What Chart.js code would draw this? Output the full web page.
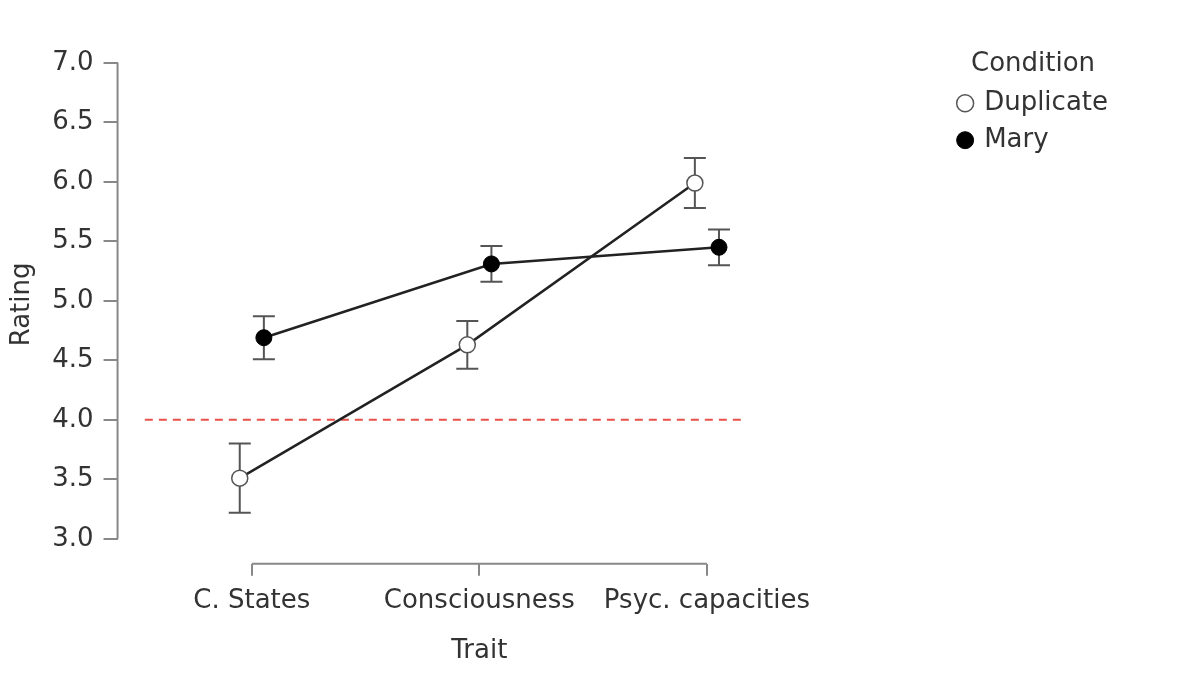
<!DOCTYPE html>
<html>
<head>
<meta charset="utf-8">
<script src="https://cdn.jsdelivr.net/npm/chart.js@4.4.0/dist/chart.umd.min.js"></script>
<style>
  body { margin: 0; background: #fff; }
  #wrap { width: 1200px; height: 686px; position: relative; }
</style>
</head>
<body>
<div id="wrap"><canvas id="chart"></canvas></div>
<script>
// data
const categories = ["C. States", "Consciousness", "Psyc. capacities"];
const duplicateMean = [3.51, 4.63, 5.99];
const duplicateErr = [0.29, 0.20, 0.21];
const maryMean = [4.69, 5.31, 5.45];
const maryErr = [0.18, 0.15, 0.15];
const yTicks = [3.0, 3.5, 4.0, 4.5, 5.0, 5.5, 6.0, 6.5, 7.0];
const refValue = 4.0;
const refRange = [-0.47, 2.15];

const dodge = 0.053;
const FONT = "DejaVu Sans";
const TXT = "#333";
const AXIS = "#888";

const dupPoints = duplicateMean.map((v, i) => ({ x: i - dodge, y: v }));
const maryPoints = maryMean.map((v, i) => ({ x: i + dodge, y: v }));
const refPoints = refRange.map(x => ({ x: x, y: refValue }));

// error bars, detached axis lines and x title
const extras = {
  id: "extras",
  beforeDatasetsDraw(chart) {
    const ctx = chart.ctx, xs = chart.scales.x, ys = chart.scales.y;
    ctx.save();
    ctx.strokeStyle = "#555";
    ctx.lineWidth = 2;
    [[duplicateMean, duplicateErr, -dodge], [maryMean, maryErr, dodge]].forEach(([m, e, d]) => {
      m.forEach((v, i) => {
        const x = xs.getPixelForValue(i + d);
        const y1 = ys.getPixelForValue(v - e[i]);
        const y2 = ys.getPixelForValue(v + e[i]);
        ctx.beginPath();
        ctx.moveTo(x, y1); ctx.lineTo(x, y2);
        ctx.moveTo(x - 11, y1); ctx.lineTo(x + 11, y1);
        ctx.moveTo(x - 11, y2); ctx.lineTo(x + 11, y2);
        ctx.stroke();
      });
    });
    ctx.restore();
  },
  afterDraw(chart) {
    const ctx = chart.ctx, xs = chart.scales.x, ys = chart.scales.y;
    const a = chart.chartArea;
    ctx.save();
    ctx.strokeStyle = AXIS;
    ctx.lineWidth = 2;
    ctx.beginPath();
    ctx.moveTo(a.left, ys.getPixelForValue(yTicks[0]));
    ctx.lineTo(a.left, ys.getPixelForValue(yTicks[yTicks.length - 1]));
    ctx.moveTo(xs.getPixelForValue(0), a.bottom);
    ctx.lineTo(xs.getPixelForValue(categories.length - 1), a.bottom);
    ctx.stroke();
    ctx.fillStyle = TXT;
    ctx.font = "26px '" + FONT + "'";
    ctx.textAlign = "center";
    ctx.textBaseline = "middle";
    ctx.fillText("Trait", (xs.getPixelForValue(0) + xs.getPixelForValue(categories.length - 1)) / 2, 651);
    ctx.restore();
  }
};

new Chart(document.getElementById("chart"), {
  type: "line",
  data: {
    datasets: [
      {
        label: "Duplicate",
        data: dupPoints,
        borderColor: "#222",
        borderWidth: 2.5,
        pointRadius: 8,
        pointBackgroundColor: "#fff",
        pointBorderColor: "#555",
        pointBorderWidth: 1.5
      },
      {
        label: "Mary",
        data: maryPoints,
        borderColor: "#222",
        borderWidth: 2.5,
        pointRadius: 8,
        pointBackgroundColor: "#000",
        pointBorderColor: "#000",
        pointBorderWidth: 1
      },
      {
        label: "ref",
        data: refPoints,
        borderColor: "#e8504a",
        borderWidth: 2,
        borderDash: [8, 6],
        pointRadius: 0
      }
    ]
  },
  options: {
    responsive: true,
    maintainAspectRatio: false,
    animation: false,
    layout: { padding: { top: 45, right: 82, left: 3, bottom: 59 } },
    scales: {
      x: {
        type: "linear",
        min: -0.59,
        max: 3.06,
        afterBuildTicks: s => { s.ticks = categories.map((c, i) => ({ value: i })); },
        ticks: {
          callback: v => categories[v],
          font: { family: FONT, size: 26 },
          color: TXT,
          padding: 10,
          maxRotation: 0
        },
        grid: { drawOnChartArea: false, drawTicks: true, tickLength: 12, color: AXIS, lineWidth: 2 },
        border: { display: false }
      },
      y: {
        min: 2.79,
        max: 7.15,
        afterBuildTicks: s => { s.ticks = yTicks.map(v => ({ value: v })); },
        ticks: {
          callback: v => v.toFixed(1),
          font: { family: FONT, size: 26 },
          color: TXT,
          padding: 10
        },
        grid: { drawOnChartArea: false, drawTicks: true, tickLength: 14, color: AXIS, lineWidth: 2 },
        border: { display: false },
        title: { display: true, text: "Rating", font: { family: FONT, size: 26 }, color: TXT, padding: 4 }
      }
    },
    plugins: {
      tooltip: { enabled: false },
      legend: {
        position: "right",
        align: "start",
        title: { display: true, text: "Condition", font: { family: FONT, size: 26 }, color: TXT, padding: { top: 6, bottom: -3 } },
        labels: {
          font: { family: FONT, size: 26 },
          color: TXT,
          usePointStyle: true,
          boxWidth: 12,
          boxHeight: 12,
          padding: 11,
          generateLabels: chart => [
            { text: "Duplicate", pointStyle: "circle", fillStyle: "#fff", strokeStyle: "#555", lineWidth: 1.5, fontColor: TXT, datasetIndex: 0 },
            { text: "Mary", pointStyle: "circle", fillStyle: "#000", strokeStyle: "#000", lineWidth: 1, fontColor: TXT, datasetIndex: 1 }
          ]
        }
      }
    }
  },
  plugins: [extras]
});
</script>
</body>
</html>
